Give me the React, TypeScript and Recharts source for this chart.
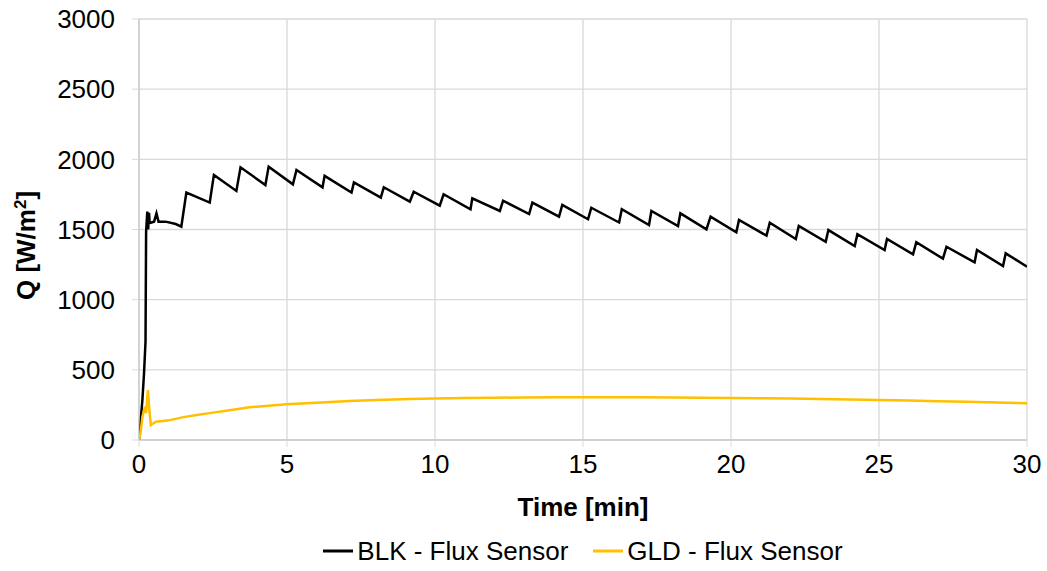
import React from 'react';
import { LineChart, Line, XAxis, YAxis, CartesianGrid, Legend, Label } from 'recharts';

// Heat flux readings (W/m²) against elapsed time (min)
const blkTime = [
  0, 0.115, 0.17, 0.22, 0.24, 0.28, 0.31, 0.34, 0.36, 0.51, 0.59, 0.66, 0.9, 1.24, 1.43,
  1.6, 2.39, 2.53, 3.29, 3.43, 4.27, 4.38, 5.2, 5.32, 6.2, 6.27, 7.18, 7.26, 8.17, 8.27,
  9.15, 9.28, 10.16, 10.29, 11.2, 11.26, 12.19, 12.3, 13.18, 13.29, 14.19, 14.3, 15.17,
  15.28, 16.22, 16.31, 17.23, 17.31, 18.21, 18.29, 19.17, 19.31, 20.18, 20.27, 21.2,
  21.31, 22.19, 22.29, 23.2, 23.29, 24.18, 24.27, 25.19, 25.27, 26.15, 26.26, 27.16,
  27.28, 28.23, 28.31, 29.19, 29.28, 30,
];
const blkFlux = [
  0, 285, 477, 700, 1484, 1627, 1500, 1618, 1546, 1556, 1615, 1556, 1556, 1539, 1520,
  1763, 1692, 1889, 1775, 1943, 1817, 1948, 1822, 1924, 1800, 1882, 1763, 1836, 1727, 1801,
  1698, 1769, 1670, 1751, 1644, 1722, 1632, 1705, 1610, 1691, 1591, 1675, 1573,
  1655, 1550, 1644, 1532, 1632, 1525, 1615, 1501, 1592, 1480, 1568, 1456,
  1548, 1432, 1525, 1413, 1496, 1382, 1466, 1354, 1432, 1323, 1409, 1292,
  1377, 1266, 1354, 1240, 1330, 1235,
];

const gldTime = [
  0, 0.06, 0.115, 0.2, 0.24, 0.3, 0.36, 0.4, 0.57, 0.8, 1, 1.5, 2, 2.5, 3, 3.74, 4.98, 6,
  7.1, 8, 9.15, 10, 11, 12, 13, 14, 15, 16, 17, 18, 19, 20, 21, 22, 23, 24, 25, 26, 27, 28,
  29, 30,
];
const gldFlux = [
  0, 60, 166, 237, 192, 356, 192, 107, 130, 135, 140, 163, 180, 195, 210, 233, 254, 266,
  278, 285, 292, 296, 299, 301, 303, 305, 305, 305, 304, 303, 301, 299, 297, 295, 292, 289,
  285, 281, 277, 272, 267, 262,
];

const xTicks = [0, 5, 10, 15, 20, 25, 30];
const yTicks = [0, 500, 1000, 1500, 2000, 2500, 3000];

const seriesNames = ['BLK - Flux Sensor', 'GLD - Flux Sensor'];
const seriesColors = ['#000000', '#FFC000'];

const blkData = blkTime.map((t, i) => ({ t, q: blkFlux[i] }));
const gldData = gldTime.map((t, i) => ({ t, q: gldFlux[i] }));

const FONT = '"Liberation Sans", Arial, sans-serif';
const GRID = '#d9d9d9';
const AXIS = '#bfbfbf';

function YTitle(props: any) {
  const vb = props.viewBox || { x: 0, y: 0, width: 0, height: 0 };
  const cx = vb.x + 35;
  const cy = vb.y + vb.height / 2 + 16;
  return (
    <text
      x={cx}
      y={cy}
      transform={`rotate(-90, ${cx}, ${cy})`}
      textAnchor="middle"
      fontFamily={FONT}
      fontSize={26}
      fontWeight="bold"
      fill="#000"
    >
      <tspan>Q [W/m</tspan>
      <tspan fontSize={17} dy={-9}>2</tspan>
      <tspan dy={9}>]</tspan>
    </text>
  );
}

function LegendBox(props: any) {
  const payload = props.payload || [];
  return (
    <div
      style={{
        marginLeft: 139,
        width: 888,
        height: 40,
        display: 'flex',
        justifyContent: 'center',
        alignItems: 'center',
        fontFamily: FONT,
        fontSize: 26,
        color: '#000',
      }}
    >
      {payload.map((p: any, i: number) => (
        <div key={i} style={{ display: 'flex', alignItems: 'center', marginLeft: i ? 25 : 0 }}>
          <svg width={30} height={4} style={{ display: 'block' }}>
            <line x1={0} y1={2} x2={30} y2={2} stroke={p.color} strokeWidth={3} />
          </svg>
          <span style={{ marginLeft: 4, whiteSpace: 'nowrap' }}>{p.value}</span>
        </div>
      ))}
    </div>
  );
}

export default function App() {
  const tickStyle = { fontFamily: FONT, fontSize: 26, fill: '#000' };
  return (
    <div style={{ position: 'absolute', left: 0, top: 0, background: '#fff' }}>
      <LineChart width={1047} height={571} margin={{ top: 19, right: 20, bottom: 0, left: 0 }}>
        <CartesianGrid stroke={GRID} strokeWidth={1.3} />
        <XAxis
          type="number"
          dataKey="t"
          domain={[0, 30]}
          ticks={xTicks}
          allowDataOverflow
          height={91}
          stroke={AXIS}
          tickLine={{ stroke: GRID }}
          tickSize={7}
          tickMargin={8}
          tick={tickStyle}
        >
          <Label
            value="Time [min]"
            position="insideBottom"
            offset={15}
            style={{ fontFamily: FONT, fontSize: 26, fontWeight: 'bold', fill: '#000' }}
          />
        </XAxis>
        <YAxis
          type="number"
          domain={[0, 3000]}
          ticks={yTicks}
          allowDataOverflow
          width={139}
          stroke={AXIS}
          tickLine={{ stroke: GRID }}
          tickSize={7}
          tickMargin={17}
          tick={tickStyle}
        >
          <Label content={<YTitle />} />
        </YAxis>
        <Legend verticalAlign="bottom" content={<LegendBox />} />
        <Line
          data={blkData}
          dataKey="q"
          name={seriesNames[0]}
          type="linear"
          stroke={seriesColors[0]}
          strokeWidth={2.5}
          dot={false}
          activeDot={false}
          isAnimationActive={false}
        />
        <Line
          data={gldData}
          dataKey="q"
          name={seriesNames[1]}
          type="linear"
          stroke={seriesColors[1]}
          strokeWidth={2.5}
          dot={false}
          activeDot={false}
          isAnimationActive={false}
        />
      </LineChart>
    </div>
  );
}
